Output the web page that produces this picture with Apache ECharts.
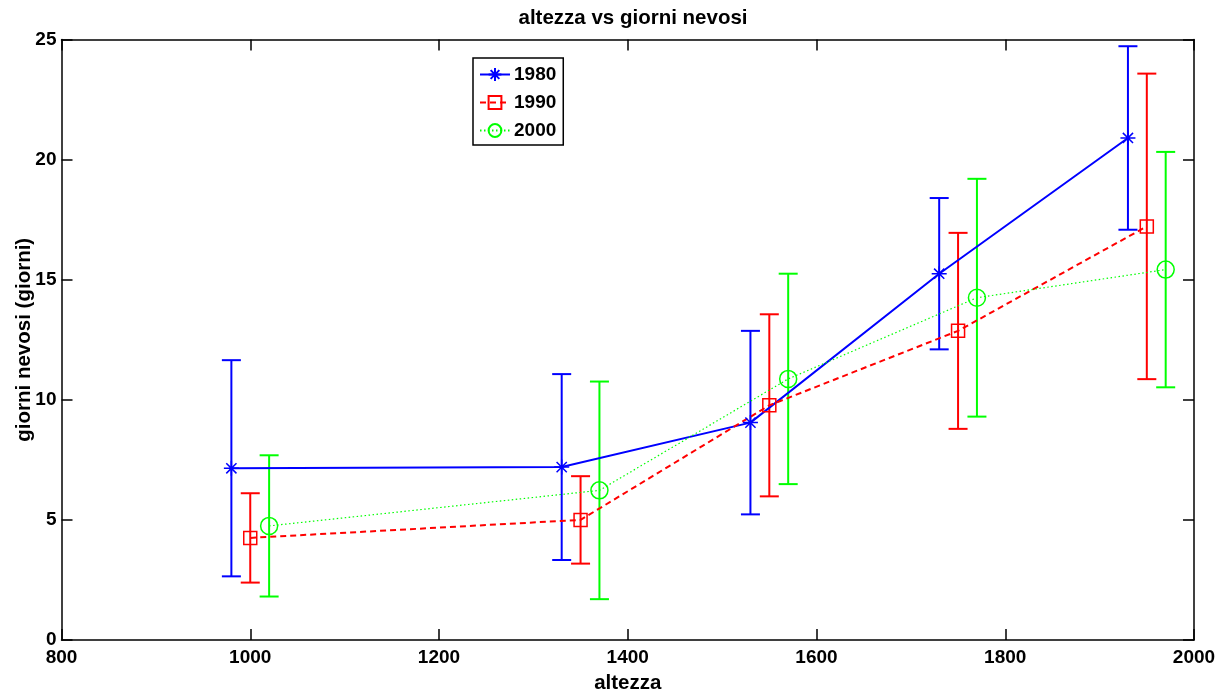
<!DOCTYPE html>
<html>
<head>
<meta charset="utf-8">
<script src="https://cdn.jsdelivr.net/npm/echarts@6/dist/echarts.min.js"></script>
<style>
html,body{margin:0;padding:0;background:#fff;}
#chart{width:1229px;height:693px;}
</style>
</head>
<body>
<div id="chart"></div>
<script>
// ---- data ----
const seriesNames = ['1980', '1990', '2000'];
const x1980 = [980, 1330, 1530, 1730, 1930];
const y1980 = [7.15, 7.2, 9.05, 15.25, 20.9];
const e1980 = [4.5, 3.87, 3.82, 3.15, 3.82];
const x1990 = [1000, 1350, 1550, 1750, 1950];
const y1990 = [4.25, 5.0, 9.77, 12.87, 17.22];
const e1990 = [1.86, 1.82, 3.79, 4.08, 6.36];
const x2000 = [1020, 1370, 1570, 1770, 1970];
const y2000 = [4.75, 6.23, 10.87, 14.25, 15.42];
const e2000 = [2.94, 4.53, 4.38, 4.95, 4.9];
const xTicks = [800, 1000, 1200, 1400, 1600, 1800, 2000];
const yTicks = [0, 5, 10, 15, 20, 25];

const FONT = 'Liberation Sans, Arial, Helvetica, sans-serif';
const BLUE = '#0000ff', RED = '#ff0000', GREEN = '#00ff00';
const ASTERISK = 'path://M0,5L10,5M5,0L5,10M1.6,1.6L8.4,8.4M8.4,1.6L1.6,8.4';

function pts(xs, ys) { return xs.map((x, i) => [x, ys[i]]); }
function errPts(xs, ys, es) { return xs.map((x, i) => [x, ys[i], es[i]]); }

function errSeries(name, data, color) {
  return {
    name: name, type: 'custom', data: data, z: 2, silent: true,
    encode: { x: 0, y: 1 },
    renderItem: function (params, api) {
      const x = api.value(0), y = api.value(1), e = api.value(2);
      const top = api.coord([x, y + e]);
      const bot = api.coord([x, y - e]);
      const hw = 9.5;
      const st = { stroke: color, lineWidth: 2 };
      return {
        type: 'group',
        children: [
          { type: 'line', shape: { x1: top[0], y1: top[1], x2: bot[0], y2: bot[1] }, style: st },
          { type: 'line', shape: { x1: top[0] - hw, y1: top[1], x2: top[0] + hw, y2: top[1] }, style: st },
          { type: 'line', shape: { x1: bot[0] - hw, y1: bot[1], x2: bot[0] + hw, y2: bot[1] }, style: st }
        ]
      };
    }
  };
}

const chart = echarts.init(document.getElementById('chart'), null, { renderer: 'canvas' });

const axisCommon = {
  axisLine: { show: true, onZero: false, lineStyle: { color: '#000', width: 1.5 } },
  axisTick: { show: true, inside: true, length: 11, lineStyle: { color: '#000', width: 1.5 } },
  splitLine: { show: false }
};

chart.setOption({
  animation: false,
  backgroundColor: '#fff',
  title: {
    text: 'altezza vs giorni nevosi',
    left: 628, top: 3, textAlign: 'center',
    textStyle: { fontFamily: FONT, fontWeight: 'bold', fontSize: 20.5, color: '#000' }
  },
  grid: { left: 61.5, right: 35, top: 39.5, bottom: 53, containLabel: false, outerBoundsMode: 'none' },
  legend: {
    data: seriesNames,
    orient: 'vertical',
    left: 473, top: 58,
    itemWidth: 30, itemHeight: 16, itemGap: 9,
    padding: [7, 7, 5, 6],
    borderColor: '#000', borderWidth: 1.5, backgroundColor: '#fff',
    textStyle: { fontFamily: FONT, fontWeight: 'bold', fontSize: 19, color: '#000', padding: [0, 0, 0, -1] }
  },
  xAxis: [
    Object.assign({
      type: 'value', min: 800, max: 2000, interval: 200, position: 'bottom',
      name: 'altezza', nameLocation: 'middle', nameGap: 33, nameMoveOverlap: false,
      nameTextStyle: { fontFamily: FONT, fontWeight: 'bold', fontSize: 20.5, color: '#000' },
      axisLabel: { show: true, margin: 8, fontFamily: FONT, fontWeight: 'bold', fontSize: 19, color: '#000',
        formatter: v => xTicks.includes(v) ? String(v) : '' }
    }, axisCommon),
    Object.assign({
      type: 'value', min: 800, max: 2000, interval: 200, position: 'top',
      axisLabel: { show: false }
    }, axisCommon)
  ],
  yAxis: [
    Object.assign({
      type: 'value', min: 0, max: 25, interval: 5, position: 'left',
      name: 'giorni nevosi (giorni)', nameLocation: 'middle', nameGap: 27, nameRotate: 90,
      nameMoveOverlap: false,
      nameTextStyle: { fontFamily: FONT, fontWeight: 'bold', fontSize: 20.5, color: '#000' },
      axisLabel: { show: true, margin: 5, fontFamily: FONT, fontWeight: 'bold', fontSize: 19, color: '#000',
        formatter: v => yTicks.includes(v) ? String(v) : '' }
    }, axisCommon),
    Object.assign({
      type: 'value', min: 0, max: 25, interval: 5, position: 'right',
      axisLabel: { show: false }
    }, axisCommon)
  ],
  series: [
    errSeries('err1980', errPts(x1980, y1980, e1980), BLUE),
    errSeries('err1990', errPts(x1990, y1990, e1990), RED),
    errSeries('err2000', errPts(x2000, y2000, e2000), GREEN),
    {
      name: '1980', type: 'line', data: pts(x1980, y1980), z: 3,
      symbol: ASTERISK, symbolSize: 15, showSymbol: true,
      lineStyle: { color: BLUE, width: 2, type: 'solid' },
      itemStyle: { color: 'none', borderColor: BLUE, borderWidth: 1.5 }
    },
    {
      name: '1990', type: 'line', data: pts(x1990, y1990), z: 3,
      symbol: 'rect', symbolSize: 13, showSymbol: true,
      lineStyle: { color: RED, width: 2, type: [6, 4] },
      itemStyle: { color: 'none', borderColor: RED, borderWidth: 1.5 }
    },
    {
      name: '2000', type: 'line', data: pts(x2000, y2000), z: 3,
      symbol: 'circle', symbolSize: 17, showSymbol: true,
      lineStyle: { color: GREEN, width: 1.2, type: [1.5, 2.5] },
      itemStyle: { color: 'none', borderColor: GREEN, borderWidth: 1.5 }
    }
  ]
});
</script>
</body>
</html>
